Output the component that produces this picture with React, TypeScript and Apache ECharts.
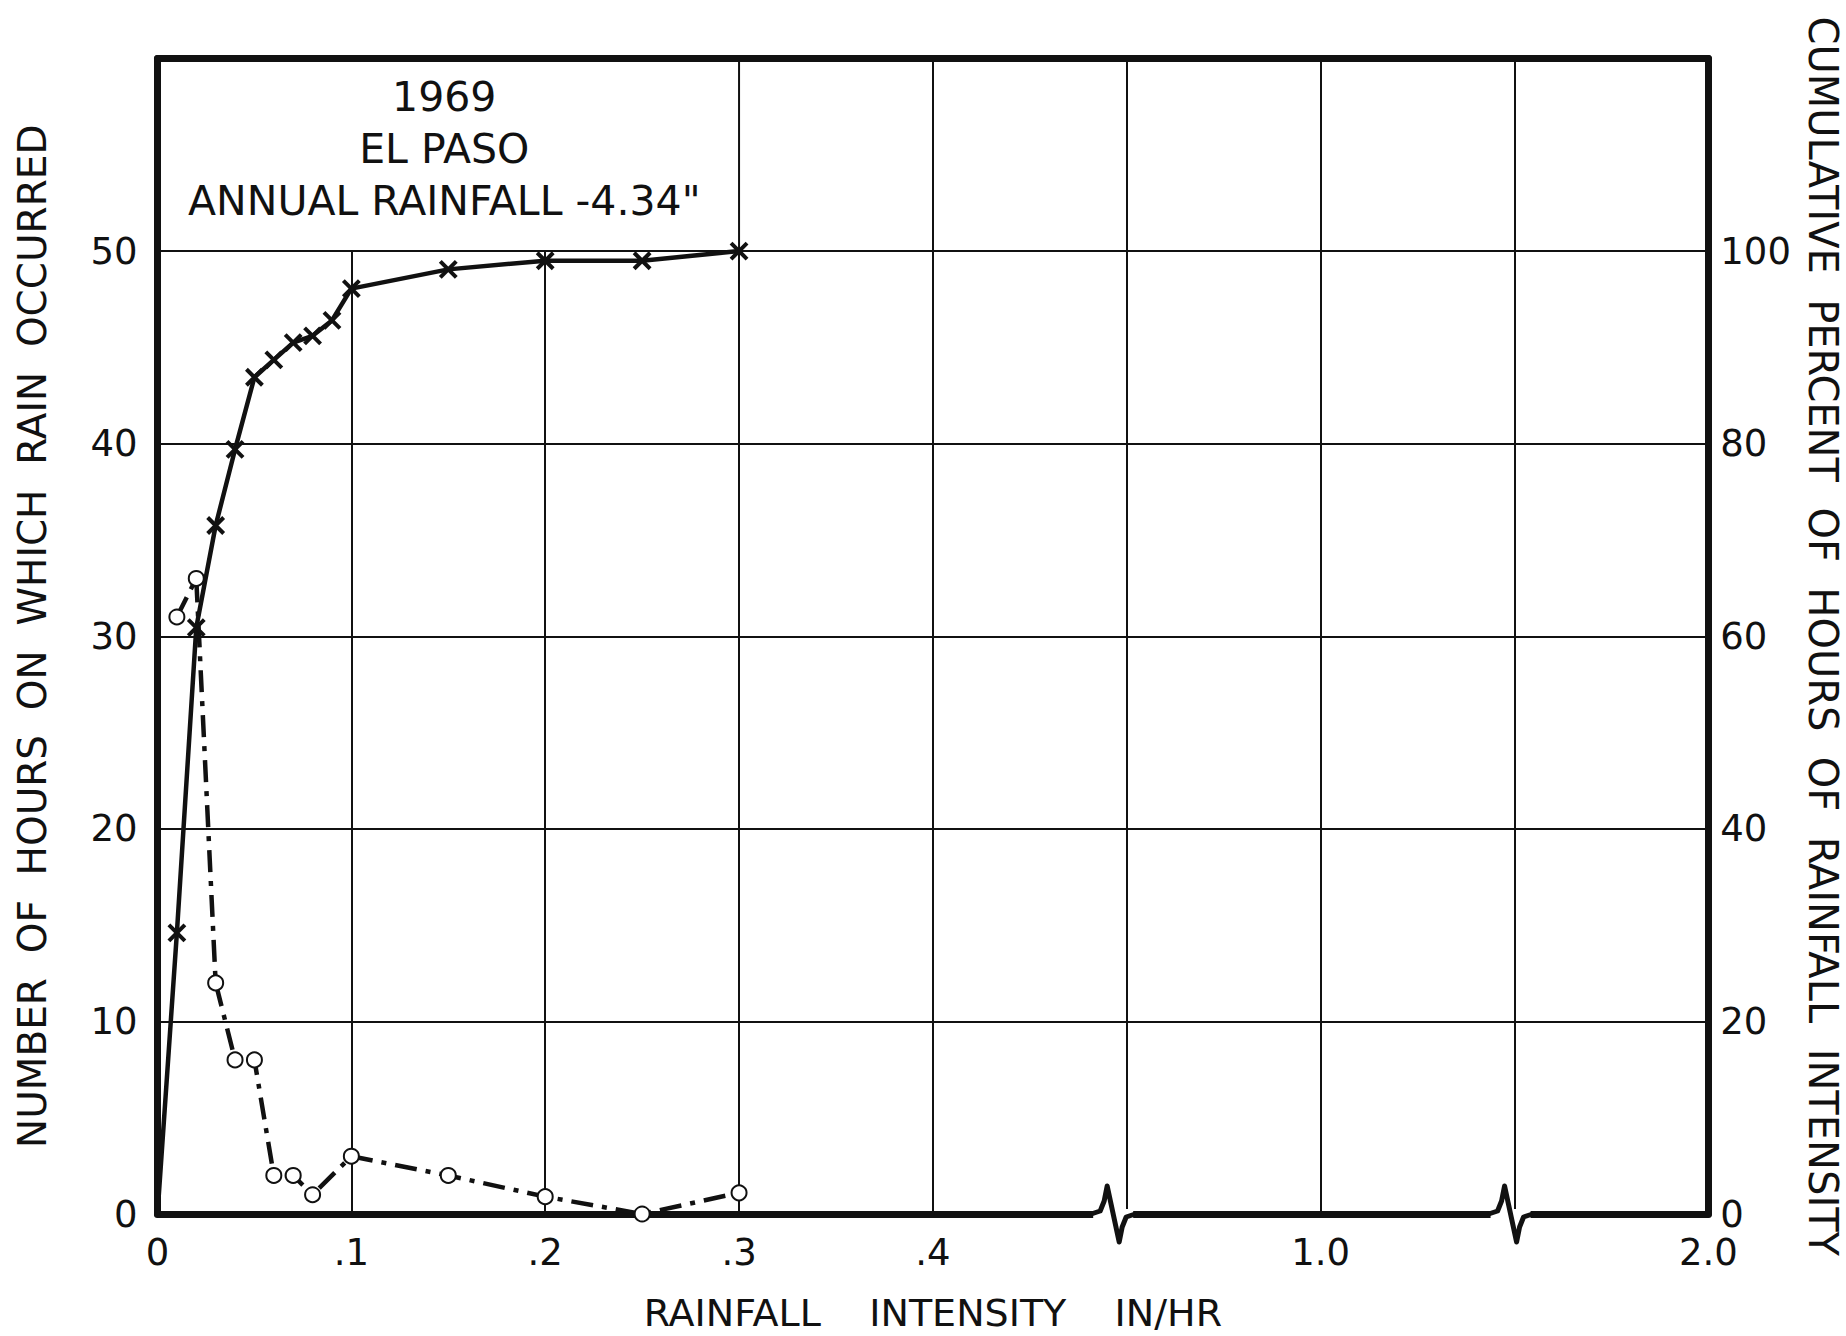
import React, { useEffect, useRef } from "react";
import * as echarts from "echarts";

// Rainfall intensity (in/hr) and number of hours with rain at that intensity
const freqIntensity = [0.01, 0.02, 0.03, 0.04, 0.05, 0.06, 0.07, 0.08, 0.1, 0.15, 0.2, 0.25, 0.3];
const freqHours = [31, 33, 12, 8, 8, 2, 2, 1, 3, 2, 0.9, 0, 1.1];

// Cumulative percent of hours of rainfall intensity
const cumIntensity = [0, 0.01, 0.02, 0.03, 0.04, 0.05, 0.06, 0.07, 0.08, 0.09, 0.1, 0.15, 0.2, 0.25, 0.3];
const cumPercent = [0, 29.2, 60.9, 71.5, 79.4, 86.9, 88.7, 90.5, 91.2, 92.8, 96.1, 98.1, 99, 99, 100];

// x tick labels (axis is broken after .4)
const xTickLabels: Record<number, string> = { 0: "0", 1: ".1", 2: ".2", 3: ".3", 4: ".4", 6: "1.0", 8: "2.0" };
const breakPositions = [0.493, 0.698];

const titleLines = ["1969", "EL PASO", "ANNUAL RAINFALL -4.34\""];
const xName = "RAINFALL    INTENSITY    IN/HR";
const yLeftName = "NUMBER  OF  HOURS  ON  WHICH  RAIN  OCCURRED";
const yRightName = "CUMULATIVE  PERCENT  OF  HOURS  OF  RAINFALL  INTENSITY";

const FONT = "DejaVu Sans";
const INK = "#111";

export default function App() {
  const ref = useRef<HTMLDivElement>(null);
  useEffect(() => {
    if (!ref.current) return;
    const chart = echarts.init(ref.current, null, { renderer: "svg" });
    const xMark = "path://M0,0L10,10M10,0L0,10";
    const frame = { show: true, onZero: false, lineStyle: { color: INK, width: 7 } };
    chart.setOption({
      animation: false,
      backgroundColor: "#fff",
      textStyle: { fontFamily: FONT, color: INK },
      grid: {
        left: 157.5,
        right: 137.7,
        top: 58.5,
        bottom: 122,
        show: false,
        containLabel: false,
        outerBoundsMode: "none",
      },
      xAxis: [
        {
          type: "value",
          min: 0,
          max: 0.8,
          interval: 0.1,
          position: "bottom",
          z: 0,
          axisLine: frame,
          axisTick: { show: false },
          splitLine: { show: true, lineStyle: { color: INK, width: 2 } },
          axisLabel: {
            margin: 20,
            fontSize: 37,
            fontFamily: FONT,
            color: INK,
            formatter: (v: number) => xTickLabels[Math.round(v * 10)] ?? "",
          },
          name: xName,
          nameLocation: "middle",
          nameGap: 80,
          nameTextStyle: { fontSize: 38, fontFamily: FONT, color: INK },
        },
        {
          type: "value",
          min: 0,
          max: 0.8,
          interval: 0.1,
          position: "top",
          z: 3,
          axisLine: frame,
          axisTick: { show: false },
          splitLine: { show: false },
          axisLabel: { show: false },
        },
      ],
      yAxis: [
        {
          type: "value",
          min: 0,
          max: 60,
          interval: 10,
          position: "left",
          z: 3,
          axisLine: frame,
          axisTick: { show: false },
          splitLine: { show: false },
          axisLabel: {
            margin: 20,
            fontSize: 37,
            fontFamily: FONT,
            color: INK,
            formatter: (v: number) => (v === 60 ? "" : String(v)),
          },
          name: yLeftName,
          nameLocation: "middle",
          nameGap: 106,
          nameTextStyle: { fontSize: 39, fontFamily: FONT, color: INK },
        },
        {
          type: "value",
          min: 0,
          max: 120,
          interval: 20,
          position: "right",
          z: 3,
          axisLine: frame,
          axisTick: { show: false },
          splitLine: { show: false },
          axisLabel: {
            margin: 12,
            fontSize: 37,
            fontFamily: FONT,
            color: INK,
            formatter: (v: number) => (v === 120 ? "" : String(v)),
          },
          name: yRightName,
          nameLocation: "middle",
          nameRotate: -90,
          nameGap: 95,
          nameTextStyle: { fontSize: 40, fontFamily: FONT, color: INK },
        },
        {
          type: "value",
          min: 0,
          max: 60,
          interval: 10,
          position: "left",
          z: 0,
          axisLine: { show: false },
          axisTick: { show: false },
          axisLabel: { show: false },
          splitLine: { show: true, lineStyle: { color: INK, width: 2 } },
        },
      ],
      series: [
        {
          name: "title box",
          type: "line",
          xAxisIndex: 0,
          yAxisIndex: 0,
          data: [],
          silent: true,
          z: 1,
          markArea: {
            silent: true,
            itemStyle: { color: "#fff", borderColor: INK, borderWidth: 2 },
            label: {
              show: true,
              position: "inside",
              offset: [-4, -6],
              fontSize: 41,
              lineHeight: 52,
              fontFamily: FONT,
              color: INK,
              align: "center",
              formatter: () => titleLines.join("\n"),
            },
            data: [[{ xAxis: 0, yAxis: 50 }, { xAxis: 0.3, yAxis: 60 }]],
          },
        },
        {
          name: "Hours",
          type: "line",
          xAxisIndex: 0,
          yAxisIndex: 0,
          z: 4,
          data: freqIntensity.map((x, i) => [x, freqHours[i]]),
          symbol: "emptyCircle",
          symbolSize: 15,
          itemStyle: { color: INK, borderColor: INK, borderWidth: 3 },
          lineStyle: { color: INK, width: 4.5, type: [22, 9, 5, 9] },
        },
        {
          name: "Cumulative percent",
          type: "line",
          xAxisIndex: 0,
          yAxisIndex: 1,
          z: 5,
          data: cumIntensity.map((x, i) => ({
            value: [x, cumPercent[i]],
            symbol: i === 0 ? "none" : xMark,
          })),
          symbolSize: 16,
          itemStyle: { color: INK, borderColor: INK, borderWidth: 4 },
          lineStyle: { color: INK, width: 4.5, type: "solid" },
        },
        {
          name: "axis breaks",
          type: "custom",
          xAxisIndex: 0,
          yAxisIndex: 0,
          z: 6,
          silent: true,
          data: breakPositions.map((b) => [b, 0]),
          renderItem: (params: any, api: any) => {
            const p = api.coord([api.value(0), 0]);
            const gx = p[0];
            const gy = p[1];
            return {
              type: "group",
              children: [
                {
                  type: "rect",
                  shape: { x: gx - 20, y: gy - 5, width: 40, height: 10 },
                  style: { fill: "#fff" },
                },
                {
                  type: "polyline",
                  shape: {
                    points: [
                      [gx - 22, gy],
                      [gx - 13, gy - 3],
                      [gx - 9, gy - 13],
                      [gx - 6, gy - 28],
                      [gx + 6, gy + 28],
                      [gx + 9, gy + 13],
                      [gx + 13, gy + 3],
                      [gx + 22, gy],
                    ],
                  },
                  style: { stroke: INK, lineWidth: 5, fill: "none", lineJoin: "round" },
                },
              ],
            };
          },
        },
      ],
    });
    return () => chart.dispose();
  }, []);
  return (
    <div
      ref={ref}
      style={{ position: "absolute", left: 0, top: 0, width: 1846, height: 1336, background: "#fff" }}
    />
  );
}
